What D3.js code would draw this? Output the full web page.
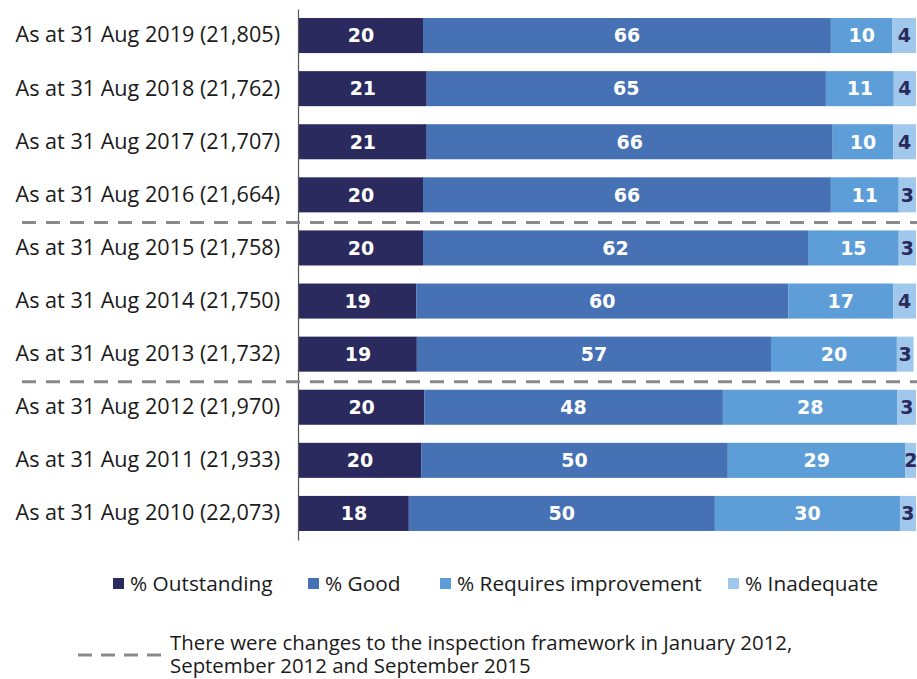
<!DOCTYPE html>
<html>
<head>
<meta charset="utf-8">
<script src="https://cdn.jsdelivr.net/npm/d3@7/dist/d3.min.js"></script>
<style>
  html, body { margin: 0; padding: 0; background: #ffffff; }
  svg { display: block; }
</style>
</head>
<body>
<svg id="chart" width="917" height="679"></svg>
<script>
const categories = [
  "As at 31 Aug 2019 (21,805)",
  "As at 31 Aug 2018 (21,762)",
  "As at 31 Aug 2017 (21,707)",
  "As at 31 Aug 2016 (21,664)",
  "As at 31 Aug 2015 (21,758)",
  "As at 31 Aug 2014 (21,750)",
  "As at 31 Aug 2013 (21,732)",
  "As at 31 Aug 2012 (21,970)",
  "As at 31 Aug 2011 (21,933)",
  "As at 31 Aug 2010 (22,073)"
];
const outstanding         = [20.1, 20.7, 20.7, 20.1, 20.1, 19.0, 19.1, 20.3, 19.8, 17.8];
const good                = [66.1, 64.7, 65.8, 66.1, 62.4, 60.3, 57.4, 48.4, 49.7, 49.6];
const requiresImprovement = [10.0, 11.0, 9.8, 11.0, 14.7, 17.0, 20.4, 28.3, 28.8, 30.0];
const inadequate          = [3.8, 3.6, 3.7, 2.8, 2.8, 3.7, 2.7, 3.0, 1.7, 2.6];
const seriesNames = ["% Outstanding", "% Good", "% Requires improvement", "% Inadequate"];
const frameworkChangeAfter = ["As at 31 Aug 2016 (21,664)", "As at 31 Aug 2013 (21,732)"];
const footnoteLines = [
  "There were changes to the inspection framework in January 2012,",
  "September 2012 and September 2015"
];

const colors = ["#2b2a5e", "#4671b5", "#5d9dd8", "#9fc8ec"];
const labelColors = ["#ffffff", "#ffffff", "#ffffff", "#2b2a5e"];
const seriesValues = [outstanding, good, requiresImprovement, inadequate];

const rows = categories.map((c, i) => {
  const r = { category: c };
  seriesNames.forEach((s, j) => { r[s] = seriesValues[j][i]; });
  return r;
});

const svg = d3.select("#chart");
const labelFont = "'Open Sans', 'Noto Sans', sans-serif";
const valueFont = "'DejaVu Sans', Verdana, sans-serif";

const x = d3.scaleLinear().domain([0, 100]).range([299, 916]);
const y = d3.scaleBand().domain(categories).range([9, 540]).paddingInner(0.34).paddingOuter(0.17);

const stack = d3.stack().keys(seriesNames)(rows);

const groups = svg.append("g").selectAll("g").data(stack).join("g")
  .attr("fill", (d, i) => colors[i]);

groups.selectAll("rect").data(d => d).join("rect")
  .attr("x", d => x(d[0]))
  .attr("y", d => y(d.data.category))
  .attr("width", d => x(d[1]) - x(d[0]))
  .attr("height", y.bandwidth());

stack.forEach((layer, i) => {
  svg.append("g").selectAll("text").data(layer).join("text")
    .attr("x", d => (x(d[0]) + x(d[1])) / 2)
    .attr("y", d => y(d.data.category) + y.bandwidth() / 2)
    .attr("dy", "0.36em")
    .attr("text-anchor", "middle")
    .attr("font-family", valueFont)
    .attr("font-weight", "bold")
    .attr("font-size", 19)
    .attr("fill", labelColors[i])
    .text(d => Math.round(d[1] - d[0]));
});

// axis
const yAxis = d3.axisLeft(y).tickSize(0).tickPadding(18);
const ag = svg.append("g").attr("transform", "translate(298,0)").call(yAxis);
ag.select(".domain").attr("stroke", "#555555").attr("stroke-width", 1.2);
ag.selectAll("text")
  .attr("font-family", labelFont)
  .attr("font-size", 21.6)
  .attr("fill", "#1a1a1a");

// framework change separators
frameworkChangeAfter.forEach(c => {
  const idx = categories.indexOf(c);
  const yy = (y(categories[idx]) + y.bandwidth() + y(categories[idx + 1])) / 2 + 1;
  svg.append("line")
    .attr("x1", 22).attr("x2", 917)
    .attr("y1", yy).attr("y2", yy)
    .attr("stroke", "#8a8a8a")
    .attr("stroke-width", 3)
    .attr("stroke-dasharray", "14,10");
});

// legend
const legendX = [113, 308, 440, 728];
const leg = svg.append("g");
seriesNames.forEach((s, i) => {
  leg.append("rect")
    .attr("x", legendX[i]).attr("y", 578)
    .attr("width", 11).attr("height", 11)
    .attr("fill", colors[i]);
  leg.append("text")
    .attr("x", legendX[i] + 17).attr("y", 591)
    .attr("font-family", labelFont)
    .attr("font-size", 20.8)
    .attr("fill", "#1a1a1a")
    .text(s);
});

// footnote
svg.append("line")
  .attr("x1", 78).attr("x2", 161)
  .attr("y1", 655).attr("y2", 655)
  .attr("stroke", "#8a8a8a")
  .attr("stroke-width", 3)
  .attr("stroke-dasharray", "14,9");
const foot = svg.append("text")
  .attr("x", 170).attr("y", 650)
  .attr("font-family", labelFont)
  .attr("font-size", 20.4)
  .attr("fill", "#1a1a1a");
footnoteLines.forEach((t, i) => {
  foot.append("tspan")
    .attr("x", 170)
    .attr("dy", i === 0 ? 0 : 23)
    .text(t);
});
</script>
</body>
</html>
